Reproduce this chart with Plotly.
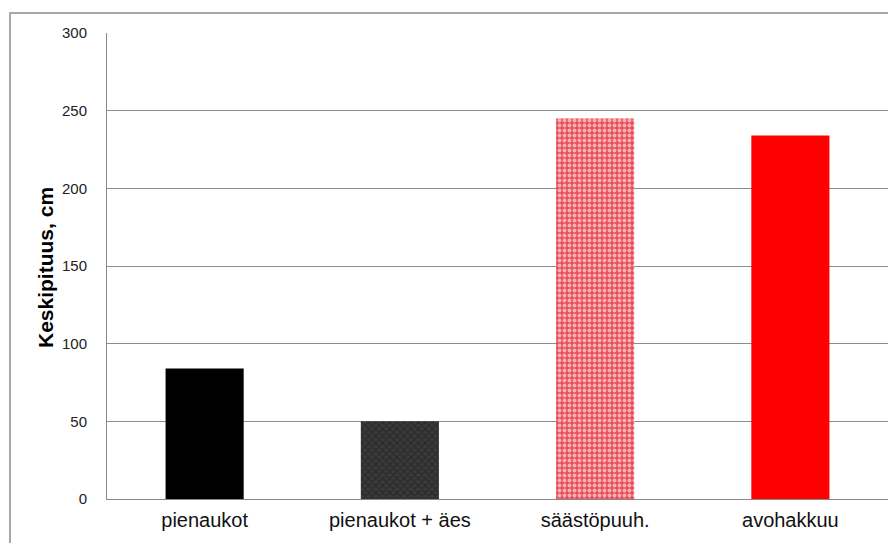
import plotly.graph_objects as go

categories = ["pienaukot", "pienaukot + äes", "säästöpuuh.", "avohakkuu"]
values = [84, 50, 245, 234]
bar_colors = ["#000000", "#3a3a3a", "#e8505e", "#ff0000"]
pattern_shapes = ["", "x", ".", ""]
pattern_fg = ["#000000", "#2a2a2a", "#f8b0b0", "#ff0000"]
y_ticks = [0, 50, 100, 150, 200, 250, 300]

OFF = 8  # default page body margin
W, H = 880, 535
ml, mt = 107 - OFF, 33 - OFF
pr, pb = 880, 499 - OFF
mr, mb = W - pr, H - pb
pw, ph = W - ml - mr, H - mt - mb

fig = go.Figure()
for cat, val, col, shp, fg in zip(categories, values, bar_colors, pattern_shapes, pattern_fg):
    fig.add_trace(go.Bar(
        x=[cat], y=[val], width=0.4,
        marker=dict(
            color=col,
            line=dict(width=0),
            pattern=dict(shape=shp, fgcolor=fg, bgcolor=col,
                         size=5, solidity=0.45, fillmode="replace"),
        ),
    ))

fig.update_layout(
    width=W, height=H, barmode="overlay",
    margin=dict(l=ml, r=mr, t=mt, b=mb, autoexpand=False),
    paper_bgcolor="white", plot_bgcolor="white",
    showlegend=False,
    font=dict(family="Arial, Liberation Sans, sans-serif", color="#000000"),
    xaxis=dict(
        categoryorder="array", categoryarray=categories,
        showgrid=False, showline=True, linecolor="#888888", linewidth=1,
        tickfont=dict(size=20, color="#111111"), ticks="", ticklabelstandoff=3,
    ),
    yaxis=dict(
        range=[0, 300], tickvals=y_ticks, showgrid=True, gridcolor="#8c8c8c", gridwidth=1,
        showline=True, linecolor="#888888", linewidth=1, zeroline=False,
        tickfont=dict(size=15, color="#222222"), ticks="", ticklabelstandoff=16,
    ),
    annotations=[dict(
        text="<b>Keskipituus, cm</b>", textangle=-90, showarrow=False,
        xref="paper", yref="paper", x=(45 - OFF - ml) / pw, y=(pb - (268 - OFF)) / ph,
        xanchor="center", yanchor="middle", font=dict(size=21, color="#000000"),
    )],
    shapes=[dict(
        type="rect", xref="paper", yref="paper",
        x0=(10 - OFF - ml) / pw, x1=1.2, y0=-0.3, y1=(pb - (13 - OFF)) / ph,
        line=dict(color="#a8a8a8", width=2), fillcolor="rgba(0,0,0,0)", layer="below",
    )],
)

fig.write_html("out.html")
